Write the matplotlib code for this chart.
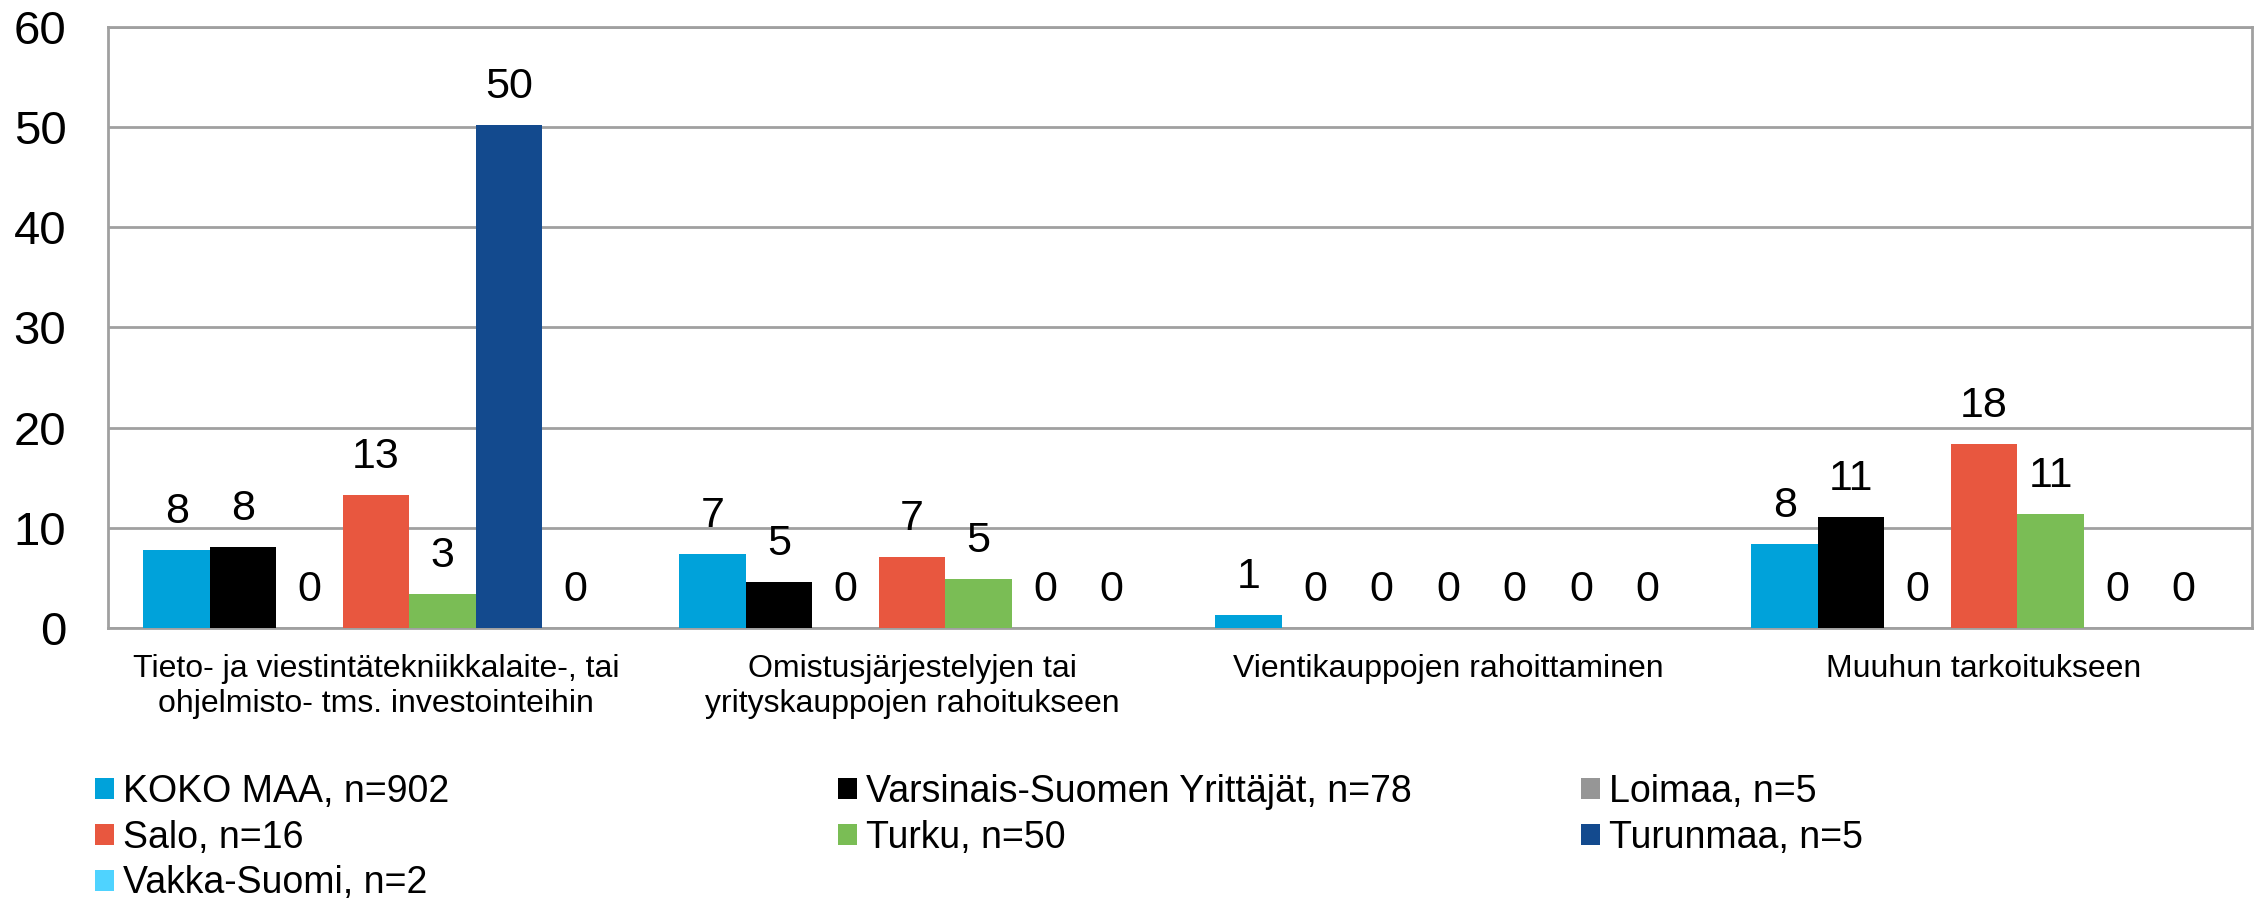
import matplotlib
matplotlib.use("Agg")
import matplotlib.pyplot as plt
import numpy as np

plt.rcParams["font.family"] = ["Liberation Sans", "DejaVu Sans"]

# data
categories = [
    "Tieto- ja viestintätekniikkalaite-, tai\nohjelmisto- tms. investointeihin",
    "Omistusjärjestelyjen tai\nyrityskauppojen rahoitukseen",
    "Vientikauppojen rahoittaminen",
    "Muuhun tarkoitukseen",
]
series_names = [
    "KOKO MAA, n=902",
    "Varsinais-Suomen Yrittäjät, n=78",
    "Loimaa, n=5",
    "Salo, n=16",
    "Turku, n=50",
    "Turunmaa, n=5",
    "Vakka-Suomi, n=2",
]
koko_maa = [7.8, 7.4, 1.3, 8.4]
varsinais_suomi = [8.1, 4.6, 0, 11.1]
loimaa = [0, 0, 0, 0]
salo = [13.3, 7.1, 0, 18.4]
turku = [3.4, 4.9, 0, 11.4]
turunmaa = [50.2, 0, 0, 0]
vakka_suomi = [0, 0, 0, 0]
yticks = [0, 10, 20, 30, 40, 50, 60]

values = [koko_maa, varsinais_suomi, loimaa, salo, turku, turunmaa, vakka_suomi]
colors = ["#00A2DA", "#000000", "#969696", "#E8573F", "#7ABD55", "#134A8E", "#4FD3FF"]

fig = plt.figure(figsize=(22.6, 8.98), dpi=100)
ax = fig.add_axes([0.0478, 0.3007, 0.9487, 0.6693])

x = np.arange(len(categories))
width = 0.124
n = len(values)
bars = []
for i, (vals, col, name) in enumerate(zip(values, colors, series_names)):
    pos = x + (i - (n - 1) / 2) * width
    b = ax.bar(pos, vals, width, color=col, label=name, zorder=3)
    bars.append(b)
    for px, v in zip(pos, vals):
        ax.annotate(f"{v:.0f}", (px, v), xytext=(0, 13), textcoords="offset points",
                    ha="center", va="bottom", fontsize=31, color="black")

ax.set_xlim(-0.5, len(categories) - 0.5)
ax.set_ylim(0, 60)
ax.set_yticks(yticks)
ax.tick_params(axis="y", length=0, labelsize=34, pad=30)
ax.set_xticks(x)
ax.set_xticklabels(categories, fontsize=23, linespacing=1.2)
ax.tick_params(axis="x", length=0, pad=19)
ax.grid(axis="y", color="#A0A0A0", linewidth=2, zorder=0)
for s in ax.spines.values():
    s.set_color("#A0A0A0")
    s.set_linewidth(2)

# legend, three columns laid out row by row
cols = [[0, 3, 6], [1, 4], [2, 5]]
col_x = [95 / 2260, 838 / 2260, 1581 / 2260]
for idxs, cx in zip(cols, col_x):
    fig.legend([bars[k] for k in idxs], [series_names[k] for k in idxs],
               loc="upper left", bbox_to_anchor=(cx, 1 - 774 / 898),
               frameon=False, fontsize=27, borderpad=0, borderaxespad=0,
               handlelength=0.5, handleheight=0.5, handletextpad=0.25,
               labelspacing=0.26)

fig.savefig("out.png", dpi=100)
